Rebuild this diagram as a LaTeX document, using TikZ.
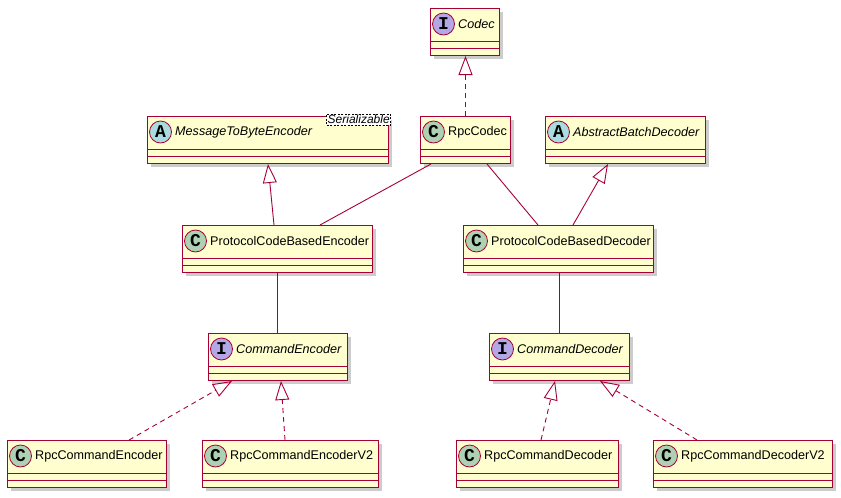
\documentclass[tikz,border=0pt]{standalone}
\usepackage{fontspec}
\setmainfont{Liberation Sans}
\newfontfamily\spotfont{Liberation Mono}
\usetikzlibrary{arrows.meta,shadows}
\definecolor{umlbg}{HTML}{FEFECE}
\definecolor{umlline}{HTML}{A80036}
\definecolor{spotC}{HTML}{ADD1B2}
\definecolor{spotA}{HTML}{A9DCDF}
\definecolor{spotI}{HTML}{B4A7E5}
\tikzset{
 cls/.style={draw=umlline, line width=1pt, fill=umlbg, minimum height=47pt, inner sep=0pt, anchor=north west,
   drop shadow={shadow xshift=3.5pt, shadow yshift=-3.5pt, opacity=0.4, fill=gray}},
 sepline/.style={draw=umlline, line width=1pt},
 spot/.style={circle, draw=umlline, line width=0.8pt, minimum size=22pt, inner sep=0pt,
   font=\spotfont\bfseries\fontsize{18}{18}\selectfont},
 cname/.style={anchor=west, inner sep=0pt, font=\fontsize{12.6}{14}\selectfont},
 link/.style={draw=umlline, line width=0.9pt},
 realize/.style={link, dash pattern=on 5pt off 4pt, -{Triangle[open, length=19pt, width=14pt]}},
 extend/.style={link, -{Triangle[open, length=19pt, width=14pt]}},
 tmpl/.style={draw=black, line width=0.6pt, dash pattern=on 2pt off 1.5pt, fill=white, inner sep=1pt,
   anchor=north east, font=\itshape\fontsize{12}{13}\selectfont}
}
\newcommand\umlclass[7]{%
 \node[cls, minimum width=#4pt] (#1) at (#2,#3) {};
 \draw[sepline] ([yshift=15pt]#1.south west) -- ([yshift=15pt]#1.south east);
 \draw[sepline] ([yshift=7.5pt]#1.south west) -- ([yshift=7.5pt]#1.south east);
 \node[spot, fill=#6] (#1-spot) at ([xshift=13.5pt,yshift=-16pt]#1.north west) {#5};
 \node[cname] (#1-name) at ([xshift=28pt,yshift=-16pt]#1.north west) {#7};
}
\begin{document}
\begin{tikzpicture}[x=1pt, y=-1pt]
\useasboundingbox[fill=white] (0,0) rectangle (841,498);
% row 1
\umlclass{Codec}{430}{8}{69}{I}{spotI}{\itshape Codec}
% row 2
\umlclass{MTBE}{147}{116}{241}{A}{spotA}{\itshape MessageToByteEncoder}
\node[tmpl] (ser) at ([xshift=2pt,yshift=2pt]MTBE.north east) {Serializable};
\umlclass{RpcCodec}{420}{116}{90}{C}{spotC}{RpcCodec}
\umlclass{ABD}{545}{116}{160}{A}{spotA}{\itshape AbstractBatchDecoder}
% row 3
\umlclass{PCBE}{182}{225}{190}{C}{spotC}{ProtocolCodeBasedEncoder}
\umlclass{PCBD}{463}{225}{190}{C}{spotC}{ProtocolCodeBasedDecoder}
% row 4
\umlclass{CE}{208}{333}{139}{I}{spotI}{\itshape CommandEncoder}
\umlclass{CD}{489}{333}{140}{I}{spotI}{\itshape CommandDecoder}
% row 5
\umlclass{RCE}{7}{440}{159}{C}{spotC}{RpcCommandEncoder}
\umlclass{RCEV}{202}{440}{176}{C}{spotC}{RpcCommandEncoderV2}
\umlclass{RCD}{456}{440}{162}{C}{spotC}{RpcCommandDecoder}
\umlclass{RCDV}{653}{440}{179}{C}{spotC}{RpcCommandDecoderV2}
% connectors
\draw[realize] (RpcCodec.north) -- (RpcCodec.north |- Codec.south);
\draw[extend] ([xshift=92pt]PCBE.north west) -- ([xshift=121pt]MTBE.south west);
\draw[link] ([xshift=11pt]RpcCodec.south west) -- ([xshift=138pt]PCBE.north west);
\draw[link] ([xshift=67pt]RpcCodec.south west) -- ([xshift=75pt]PCBD.north west);
\draw[extend] ([xshift=110pt]PCBD.north west) -- ([xshift=63pt]ABD.south west);
\draw[link] ([xshift=95pt]PCBE.south west) -- ([xshift=69pt]CE.north west);
\draw[link] ([xshift=96pt]PCBD.south west) -- ([xshift=70pt]CD.north west);
\draw[realize] ([xshift=122pt]RCE.north west) -- ([xshift=24pt]CE.south west);
\draw[realize] ([xshift=83pt]RCEV.north west) -- ([xshift=73pt]CE.south west);
\draw[realize] ([xshift=85pt]RCD.north west) -- ([xshift=66pt]CD.south west);
\draw[realize] ([xshift=44pt]RCDV.north west) -- ([xshift=111pt]CD.south west);
\end{tikzpicture}
\end{document}
